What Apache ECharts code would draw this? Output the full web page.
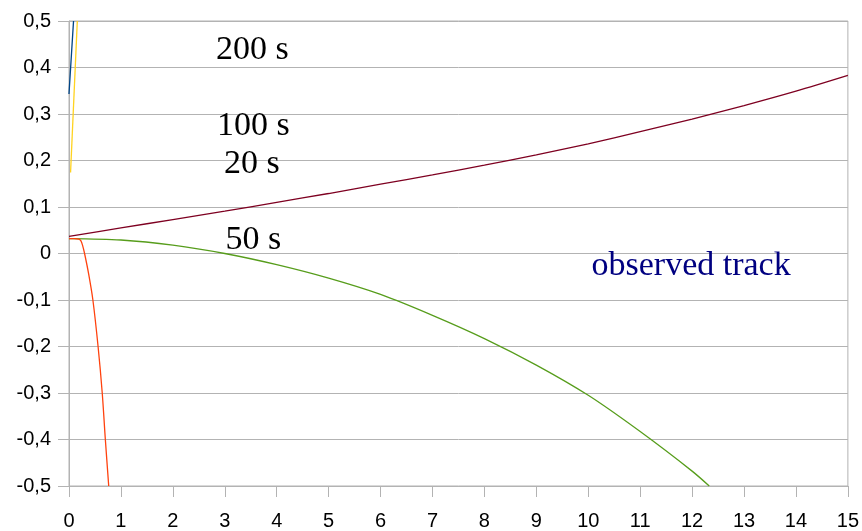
<!DOCTYPE html>
<html>
<head>
<meta charset="utf-8">
<script src="https://cdn.jsdelivr.net/npm/echarts@6/dist/echarts.min.js"></script>
<style>html,body{margin:0;padding:0;background:#fff}#c{width:862px;height:531px}</style>
</head>
<body>
<div id="c"></div>
<script>
// x ticks 0..15, y ticks -0.5..0.5
const xTicks = [0, 15, 1];
const yTicks = [-0.5, 0.5, 0.1];

// curves: [x, y]
const track20s = [[0,0.037],[1,0.055],[2,0.073],[3,0.091],[4,0.110],[5,0.129],[6,0.149],[7,0.169],[8,0.190],[9,0.212],[10,0.236],[11,0.262],[12,0.289],[13,0.318],[14,0.349],[15,0.383]];
const track50s = [[0,0.032],[1,0.029],[2,0.018],[3,0.000],[4,-0.024],[5,-0.053],[6,-0.088],[7,-0.133],[8,-0.183],[9,-0.240],[10,-0.305],[11,-0.383],[12,-0.468],[12.33,-0.5]];
const trackObserved = [[0,0.032],[0.1,0.032],[0.19,0.031],[0.23,0.027],[0.26,0.018],[0.30,0.0],[0.38,-0.045],[0.46,-0.1],[0.56,-0.2],[0.64,-0.3],[0.70,-0.4],[0.765,-0.5]];
const track200s = [[0,0.343],[0.087,0.5]];
const track100s = [[0.03,0.174],[0.16,0.5]];

const labels = [
  {text:'200 s', x:216, y:50, color:'#000000'},
  {text:'100 s', x:217, y:126, color:'#000000'},
  {text:'20 s', x:224, y:164.5, color:'#000000'},
  {text:'50 s', x:225.5, y:240, color:'#000000'},
  {text:'observed track', x:591.5, y:266.5, color:'#000080'}
];

const chart = echarts.init(document.getElementById('c'), null, {renderer:'canvas'});
const gridColor = '#b3b3b3';
function line(data, color){
  return {type:'line', data:data, showSymbol:false, smooth:0.3, clip:true,
    lineStyle:{color:color, width:1.3}, itemStyle:{color:color}, animation:false};
}
chart.setOption({
  animation:false,
  grid:{left:69, right:14, top:21, bottom:43, show:true, borderColor:gridColor, borderWidth:1},
  xAxis:{type:'value', min:xTicks[0], max:xTicks[1], interval:xTicks[2],
    axisLine:{onZero:false, lineStyle:{color:gridColor, width:1}},
    axisTick:{show:true, length:11, lineStyle:{color:gridColor}},
    splitLine:{show:false},
    axisLabel:{color:'#000', fontFamily:'Liberation Sans', fontSize:20, margin:25}},
  yAxis:{type:'value', min:yTicks[0], max:yTicks[1], interval:yTicks[2],
    axisLine:{show:true, onZero:false, lineStyle:{color:gridColor, width:1}},
    axisTick:{show:true, length:11, lineStyle:{color:gridColor}},
    splitLine:{show:true, lineStyle:{color:gridColor, width:1}},
    axisLabel:{color:'#000', fontFamily:'Liberation Sans', fontSize:20, margin:18,
      formatter:function(v){ const r = Math.round(v*10)/10; return r===0 ? '0' : String(r).replace('.',','); }}},
  series:[
    line(track20s,'#7e0021'),
    line(track50s,'#579d1c'),
    line(trackObserved,'#ff420e'),
    line(track200s,'#004586'),
    line(track100s,'#ffd320')
  ],
  graphic: labels.map(l => ({type:'text', x:l.x, y:l.y, z:100,
    style:{text:l.text, fill:l.color, font:'34px "Liberation Serif"', textAlign:'left', textVerticalAlign:'middle'}}))
});
</script>
</body>
</html>
